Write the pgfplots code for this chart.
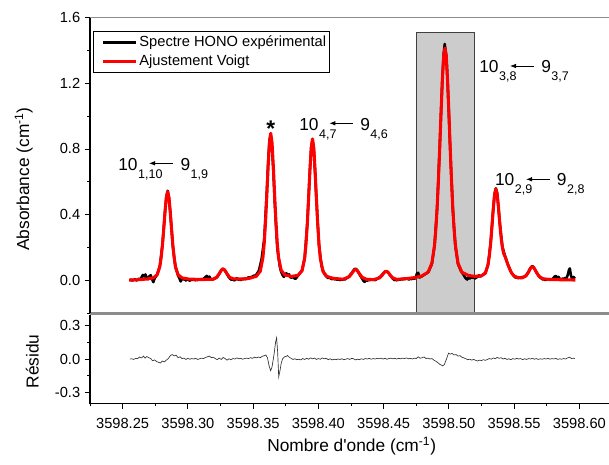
\documentclass[border=0pt]{standalone}
\usepackage{fontspec}
\setmainfont{Liberation Sans}
\usepackage{pgfplots}
\pgfplotsset{compat=1.18}
\usepackage{pgfplotstable}
\usetikzlibrary{arrows.meta}

% x values are offsets from 3598 cm^-1
\pgfplotstableread{
x y
0.2550 0.000
0.2620 0.003
0.2685 0.007
0.2735 0.014
0.2765 0.033
0.2785 0.083
0.2795 0.136
0.2805 0.213
0.2815 0.311
0.2825 0.418
0.2835 0.505
0.2845 0.540
0.2855 0.505
0.2865 0.418
0.2875 0.311
0.2885 0.213
0.2895 0.136
0.2905 0.083
0.2925 0.033
0.2955 0.014
0.3005 0.007
0.3100 0.004
0.3190 0.005
0.3220 0.017
0.3240 0.039
0.3250 0.053
0.3260 0.064
0.3270 0.068
0.3280 0.064
0.3290 0.053
0.3300 0.039
0.3320 0.017
0.3350 0.008
0.3420 0.007
0.3475 0.012
0.3525 0.024
0.3555 0.055
0.3575 0.138
0.3585 0.225
0.3595 0.353
0.3605 0.516
0.3615 0.692
0.3625 0.837
0.3635 0.895
0.3645 0.837
0.3655 0.692
0.3665 0.516
0.3675 0.353
0.3685 0.225
0.3695 0.138
0.3715 0.060
0.3745 0.031
0.3795 0.023
0.3845 0.030
0.3875 0.058
0.3895 0.134
0.3905 0.218
0.3915 0.340
0.3925 0.497
0.3935 0.666
0.3945 0.805
0.3955 0.861
0.3965 0.805
0.3975 0.666
0.3985 0.497
0.3995 0.339
0.4005 0.216
0.4015 0.132
0.4035 0.053
0.4065 0.023
0.4115 0.011
0.4190 0.006
0.4235 0.020
0.4255 0.040
0.4265 0.051
0.4275 0.061
0.4285 0.065
0.4295 0.061
0.4305 0.051
0.4315 0.039
0.4335 0.018
0.4365 0.006
0.4420 0.003
0.4470 0.014
0.4490 0.031
0.4500 0.042
0.4510 0.051
0.4520 0.054
0.4530 0.051
0.4540 0.042
0.4550 0.031
0.4570 0.014
0.4600 0.005
0.4680 0.010
0.4740 0.016
0.4790 0.025
0.4840 0.048
0.4870 0.104
0.4890 0.213
0.4900 0.309
0.4910 0.442
0.4920 0.611
0.4930 0.810
0.4940 1.022
0.4950 1.218
0.4960 1.362
0.4970 1.415
0.4980 1.362
0.4990 1.218
0.5000 1.022
0.5010 0.810
0.5020 0.611
0.5030 0.442
0.5040 0.309
0.5050 0.213
0.5070 0.104
0.5100 0.048
0.5150 0.029
0.5200 0.023
0.5250 0.027
0.5280 0.043
0.5300 0.094
0.5310 0.147
0.5320 0.224
0.5330 0.324
0.5340 0.431
0.5350 0.520
0.5360 0.557
0.5370 0.526
0.5380 0.444
0.5390 0.346
0.5400 0.261
0.5410 0.200
0.5420 0.162
0.5430 0.145
0.5440 0.123
0.5450 0.099
0.5460 0.080
0.5480 0.044
0.5500 0.025
0.5530 0.016
0.5560 0.014
0.5590 0.025
0.5610 0.049
0.5620 0.064
0.5630 0.077
0.5640 0.082
0.5650 0.077
0.5660 0.064
0.5670 0.049
0.5690 0.024
0.5720 0.009
0.5770 0.004
0.5970 0.001
}\fitdata

\pgfplotstableread{
x y
0.2555 0.000
0.2565 0.004
0.2575 -0.003
0.2585 0.002
0.2595 0.006
0.2605 -0.002
0.2615 0.003
0.2625 0.010
0.2635 0.004
0.2645 0.018
0.2655 0.032
0.2665 0.022
0.2675 0.035
0.2685 0.012
0.2695 0.006
0.2705 0.024
0.2715 0.030
0.2725 0.008
0.2735 -0.012
0.2745 0.010
0.2755 0.022
0.2765 0.036
0.2785 0.085
0.2805 0.215
0.2825 0.420
0.2835 0.508
0.2845 0.545
0.2855 0.500
0.2865 0.412
0.2885 0.205
0.2905 0.078
0.2925 0.028
0.2935 0.012
0.2945 -0.008
0.2955 0.010
0.2965 0.004
0.2975 0.008
0.2985 -0.002
0.2995 0.006
0.3005 0.002
0.3015 -0.004
0.3025 0.005
0.3035 0.001
0.3045 0.007
0.3055 -0.002
0.3065 0.004
0.3075 0.000
0.3085 0.006
0.3095 0.003
0.3105 0.008
0.3115 0.002
0.3125 0.012
0.3135 0.020
0.3145 0.026
0.3155 0.014
0.3165 0.022
0.3175 0.008
0.3185 0.003
0.3195 0.006
0.3205 0.010
0.3215 0.014
0.3225 0.020
0.3235 0.032
0.3245 0.045
0.3255 0.060
0.3265 0.070
0.3275 0.066
0.3285 0.056
0.3295 0.044
0.3305 0.030
0.3315 0.016
0.3325 0.008
0.3335 0.002
0.3345 0.006
0.3355 -0.002
0.3365 0.004
0.3375 0.012
0.3385 0.003
0.3395 0.006
0.3405 0.000
0.3415 0.008
0.3425 0.005
0.3435 0.010
0.3445 0.006
0.3455 0.012
0.3465 0.018
0.3475 0.014
0.3485 0.020
0.3495 0.022
0.3505 0.028
0.3515 0.026
0.3525 0.034
0.3545 0.060
0.3565 0.130
0.3585 0.250
0.3605 0.545
0.3615 0.715
0.3625 0.850
0.3632 0.885
0.3642 0.840
0.3655 0.665
0.3665 0.480
0.3685 0.195
0.3705 0.080
0.3715 0.050
0.3725 0.032
0.3735 0.020
0.3745 0.035
0.3755 0.042
0.3765 0.028
0.3775 0.036
0.3785 0.018
0.3795 0.015
0.3805 0.022
0.3815 0.012
0.3825 0.008
0.3835 0.018
0.3845 0.030
0.3875 0.060
0.3895 0.136
0.3915 0.345
0.3935 0.670
0.3945 0.808
0.3955 0.858
0.3965 0.800
0.3985 0.490
0.4005 0.210
0.4025 0.085
0.4045 0.040
0.4055 0.028
0.4065 0.020
0.4075 0.012
0.4085 0.018
0.4095 0.010
0.4105 0.006
0.4115 0.012
0.4125 0.004
0.4135 0.008
0.4145 0.002
0.4155 0.006
0.4165 0.000
0.4175 0.005
0.4185 0.002
0.4195 0.008
0.4205 0.004
0.4215 0.012
0.4225 0.018
0.4235 0.024
0.4245 0.034
0.4255 0.042
0.4265 0.055
0.4275 0.066
0.4285 0.070
0.4295 0.064
0.4305 0.050
0.4315 0.036
0.4325 0.022
0.4335 0.010
0.4345 -0.004
0.4355 -0.010
0.4365 0.002
0.4375 -0.004
0.4385 0.004
0.4395 0.000
0.4405 0.006
0.4415 0.002
0.4425 0.004
0.4435 0.000
0.4445 0.006
0.4455 0.010
0.4465 0.016
0.4475 0.022
0.4485 0.030
0.4495 0.040
0.4505 0.048
0.4515 0.054
0.4525 0.052
0.4535 0.046
0.4545 0.036
0.4555 0.026
0.4565 0.014
0.4575 0.006
0.4585 0.000
0.4595 0.004
0.4605 -0.002
0.4615 0.006
0.4625 0.002
0.4635 0.008
0.4645 0.004
0.4655 0.010
0.4665 0.006
0.4675 0.012
0.4685 0.008
0.4695 0.004
0.4705 0.010
0.4715 0.006
0.4725 0.012
0.4735 0.008
0.4745 0.014
0.4755 0.040
0.4765 0.045
0.4775 0.016
0.4785 0.020
0.4795 0.024
0.4805 0.030
0.4825 0.040
0.4845 0.052
0.4870 0.100
0.4890 0.210
0.4910 0.440
0.4930 0.815
0.4950 1.230
0.4960 1.380
0.4968 1.440
0.4980 1.370
0.4990 1.215
0.5010 0.800
0.5030 0.430
0.5050 0.205
0.5070 0.098
0.5090 0.060
0.5100 0.046
0.5110 0.036
0.5120 0.022
0.5130 0.010
0.5140 0.004
0.5150 0.016
0.5160 0.010
0.5170 0.022
0.5180 0.014
0.5190 0.018
0.5200 0.010
0.5210 0.016
0.5220 0.020
0.5230 0.030
0.5240 0.022
0.5250 0.026
0.5280 0.045
0.5300 0.095
0.5320 0.228
0.5340 0.438
0.5350 0.526
0.5360 0.560
0.5370 0.530
0.5390 0.350
0.5410 0.204
0.5430 0.148
0.5450 0.100
0.5470 0.060
0.5480 0.044
0.5490 0.036
0.5500 0.024
0.5510 0.016
0.5520 0.018
0.5530 0.012
0.5540 0.016
0.5550 0.014
0.5560 0.018
0.5580 0.022
0.5600 0.038
0.5610 0.052
0.5620 0.068
0.5630 0.080
0.5640 0.086
0.5650 0.078
0.5660 0.064
0.5670 0.050
0.5680 0.036
0.5690 0.026
0.5700 0.016
0.5710 0.010
0.5720 0.004
0.5730 0.008
0.5740 0.000
0.5750 0.006
0.5760 0.002
0.5770 0.008
0.5780 0.003
0.5790 0.006
0.5800 0.012
0.5810 0.022
0.5820 0.026
0.5830 0.012
0.5840 0.020
0.5850 0.008
0.5860 0.004
0.5870 0.010
0.5880 0.006
0.5890 0.014
0.5900 0.010
0.5910 0.030
0.5920 0.062
0.5927 0.072
0.5935 0.030
0.5945 0.004
0.5955 0.020
0.5965 0.010
}\expdata

\pgfplotstableread{
x y
0.2555 0.000
0.2570 0.002
0.2585 -0.004
0.2600 0.006
0.2615 0.004
0.2630 0.018
0.2645 0.010
0.2660 0.026
0.2672 0.008
0.2685 0.022
0.2700 0.012
0.2715 0.004
0.2730 -0.016
0.2745 -0.008
0.2760 -0.022
0.2775 -0.030
0.2790 -0.036
0.2805 -0.018
0.2820 -0.026
0.2835 -0.010
0.2850 0.004
0.2865 0.030
0.2880 0.040
0.2895 0.028
0.2910 0.034
0.2925 0.012
0.2940 0.020
0.2955 0.004
0.2970 0.008
0.2985 -0.004
0.3000 0.006
0.3015 -0.002
0.3030 0.004
0.3045 0.000
0.3060 0.006
0.3075 -0.004
0.3090 0.002
0.3105 0.008
0.3120 0.004
0.3135 0.014
0.3150 0.020
0.3165 0.026
0.3180 0.012
0.3195 0.016
0.3210 0.004
0.3225 -0.006
0.3240 0.008
0.3255 -0.004
0.3270 0.014
0.3285 0.004
0.3300 -0.010
0.3315 0.002
0.3330 -0.006
0.3345 0.004
0.3360 0.000
0.3375 0.010
0.3390 0.002
0.3405 0.006
0.3420 -0.002
0.3435 0.004
0.3450 0.008
0.3465 0.004
0.3480 0.012
0.3495 0.006
0.3510 0.016
0.3525 0.010
0.3540 0.018
0.3555 0.012
0.3570 0.024
0.3585 0.030
0.3598 0.036
0.3610 0.010
0.3622 -0.060
0.3634 -0.105
0.3645 -0.070
0.3660 0.040
0.3672 0.150
0.3680 0.190
0.3688 0.060
0.3696 -0.160
0.3705 -0.110
0.3715 -0.040
0.3725 0.000
0.3740 0.020
0.3755 0.024
0.3762 0.032
0.3775 0.018
0.3790 0.006
0.3805 -0.004
0.3820 0.002
0.3835 -0.006
0.3850 -0.002
0.3865 -0.008
0.3880 0.004
0.3895 -0.004
0.3910 0.006
0.3925 -0.002
0.3940 0.010
0.3955 0.002
0.3970 0.008
0.3985 -0.004
0.4000 0.004
0.4015 -0.002
0.4030 0.010
0.4045 0.002
0.4060 0.006
0.4075 -0.006
0.4090 0.002
0.4105 -0.008
0.4120 -0.002
0.4135 -0.006
0.4150 0.000
0.4165 -0.004
0.4180 0.002
0.4195 -0.006
0.4210 -0.002
0.4225 0.004
0.4240 -0.004
0.4255 0.006
0.4270 0.002
0.4285 -0.008
0.4300 -0.002
0.4315 -0.006
0.4330 0.002
0.4345 -0.004
0.4360 0.004
0.4375 0.000
0.4390 0.006
0.4405 -0.002
0.4420 0.004
0.4435 0.000
0.4450 0.006
0.4465 0.002
0.4480 0.008
0.4495 0.000
0.4510 0.006
0.4525 -0.002
0.4540 0.004
0.4555 0.008
0.4570 0.002
0.4585 0.006
0.4600 0.000
0.4615 0.006
0.4630 0.002
0.4645 0.008
0.4660 0.004
0.4675 0.010
0.4690 0.002
0.4705 0.006
0.4720 0.000
0.4735 0.008
0.4750 0.004
0.4765 0.020
0.4780 0.006
0.4795 0.012
0.4810 0.018
0.4825 0.004
0.4840 0.008
0.4855 0.000
0.4870 0.004
0.4885 -0.010
0.4900 -0.020
0.4915 -0.032
0.4930 -0.048
0.4945 -0.056
0.4952 -0.062
0.4965 -0.050
0.4975 -0.020
0.4985 0.010
0.4997 0.052
0.5010 0.044
0.5025 0.050
0.5040 0.036
0.5055 0.040
0.5070 0.026
0.5085 0.030
0.5100 0.016
0.5115 0.010
0.5130 0.002
0.5145 -0.006
0.5160 -0.002
0.5175 -0.010
0.5190 -0.004
0.5205 -0.012
0.5220 -0.018
0.5235 -0.010
0.5250 -0.014
0.5265 -0.006
0.5280 -0.012
0.5295 -0.004
0.5310 0.004
0.5325 -0.002
0.5340 0.010
0.5355 0.002
0.5370 0.014
0.5385 0.006
0.5400 0.012
0.5415 0.000
0.5430 0.006
0.5445 -0.004
0.5460 0.002
0.5475 -0.006
0.5490 0.004
0.5505 -0.002
0.5520 0.006
0.5535 0.000
0.5550 0.004
0.5565 -0.006
0.5580 0.002
0.5595 -0.004
0.5610 0.004
0.5625 0.000
0.5640 0.006
0.5655 -0.002
0.5670 0.004
0.5685 -0.004
0.5700 0.002
0.5715 -0.002
0.5730 0.004
0.5745 0.000
0.5760 0.006
0.5775 -0.002
0.5790 0.004
0.5805 0.000
0.5820 0.006
0.5835 -0.004
0.5850 0.002
0.5865 -0.002
0.5880 0.004
0.5895 0.000
0.5910 0.010
0.5925 0.016
0.5940 0.004
0.5955 0.008
0.5965 0.004
}\resdata

\newcommand{\lvl}[2]{#1\kern0.4pt\raisebox{-6.2pt}{\fontsize{9.4}{10}\selectfont #2}}

\pgfplotsset{
  common/.style={
    scale only axis,
    width=391.5pt,
    xmin=0.225, xmax=0.625,
    axis line style={draw=none},
    tick align=outside,
    major tick length=3.8pt,
    minor tick length=2.2pt,
    every tick/.style={black, line width=0.6pt},
    /pgf/number format/assume math mode=true,
    tick label style={font=\fontsize{11}{13}\selectfont},
    yticklabel style={/pgf/number format/.cd, fixed, fixed zerofill, precision=1},
    ytick pos=left,
    clip=false,
  }
}

\begin{document}
\begin{tikzpicture}

% ---------- top panel ----------
\begin{axis}[common,
  at={(67.5pt,113.25pt)}, anchor=south west,
  height=221.5pt,
  ymin=-0.2, ymax=1.6,
  xtick=\empty,
  ytick={0,0.4,0.8,1.2,1.6},
  minor ytick={-0.2,0.2,0.6,1.0,1.4},
  legend style={at={(0.005,0.955)}, anchor=north west, draw=black,
    line width=0.6pt, inner xsep=1pt, inner ysep=1.5pt,
    font=\fontsize{11}{12}\selectfont, row sep=1pt,
    nodes={inner sep=1.5pt, text height=8pt, text depth=2.4pt}},
  legend cell align=left,
  legend image code/.code={\path (0pt,0pt); \draw[#1] (5.5pt,0pt) -- (30pt,0pt);},
]
\fill[black!20] (axis cs:0.475,-0.2) rectangle (axis cs:0.5195,1.51);
\draw[black!75, line width=0.6pt] (axis cs:0.475,-0.2) -- (axis cs:0.475,1.51) -- (axis cs:0.5195,1.51) -- (axis cs:0.5195,-0.2);
\addplot[black, line width=1.9pt, line join=round] table[x=x,y=y]{\expdata};
\addplot[red, line width=2.3pt, line join=round] table[x=x,y=y]{\fitdata};
\legend{Spectre HONO expérimental, Ajustement Voigt}
\draw[black!45, line width=0.8pt] (rel axis cs:0,1) -- (rel axis cs:1,1);
\draw[black!45, line width=0.8pt] (rel axis cs:0,0) -- (rel axis cs:1,0);
\draw[black, line width=0.9pt] (rel axis cs:0,0) -- (rel axis cs:0,1);
\end{axis}

% ---------- residual panel ----------
\begin{axis}[common,
  at={(67.5pt,45.375pt)}, anchor=south west,
  height=66.75pt,
  ymin=-0.4, ymax=0.4,
  ytick={-0.3,0,0.3},
  minor ytick={-0.15,0.15},
  xtick={0.25,0.30,0.35,0.40,0.45,0.50,0.55,0.60},
  xticklabels={3598.25,3598.30,3598.35,3598.40,3598.45,3598.50,3598.55,3598.60},
  minor xtick={0.225,0.275,0.325,0.375,0.425,0.475,0.525,0.575,0.625},
  xtick pos=bottom,
  xticklabel style={yshift=-4pt},
]
\addplot[black!80, line width=0.5pt] table[x=x,y=y]{\resdata};
\draw[black!45, line width=0.8pt] (rel axis cs:0,1) -- (rel axis cs:1,1);
\draw[black, line width=0.9pt] (rel axis cs:0,0) -- (rel axis cs:1,0);
\draw[black, line width=0.9pt] (rel axis cs:0,0) -- (rel axis cs:0,1);
\end{axis}

\begin{scope}[x=0.75pt,y=0.75pt]
% ---------- axis titles ----------
\node[rotate=90, anchor=base, inner sep=0, font=\fontsize{13}{13}\selectfont] at (29,285) {Absorbance (cm\textsuperscript{-1})};
\node[rotate=90, anchor=base, inner sep=0, font=\fontsize{13}{13}\selectfont] at (38.5,102.5) {Résidu};
\node[anchor=base, inner sep=0, font=\fontsize{13}{13}\selectfont] at (351.7,12.5) {Nombre d\textquotesingle onde (cm\textsuperscript{-1})};

% ---------- annotations ----------
\begin{scope}[every node/.style={anchor=base west, inner sep=0, font=\fontsize{13}{13}\selectfont}]
\node at (118,293.3) {\lvl{10}{1,10}};
\draw[line width=0.6pt, -{Latex[length=4.5pt,width=3.4pt]}] (172.7,300.7) -- (149,300.7);
\node at (180.3,293.3) {\lvl{9}{1,9}};

\node at (299,333.3) {\lvl{10}{4,7}};
\draw[line width=0.6pt, -{Latex[length=4.5pt,width=3.4pt]}] (352.7,340.7) -- (329.3,340.7);
\node at (360,333.3) {\lvl{9}{4,6}};

\node at (479,391.7) {\lvl{10}{3,8}};
\draw[line width=0.6pt, -{Latex[length=4.5pt,width=3.4pt]}] (534.3,398) -- (510,398);
\node at (541,391.7) {\lvl{9}{3,7}};

\node at (494.8,278.3) {\lvl{10}{2,9}};
\draw[line width=0.6pt, -{Latex[length=4.5pt,width=3.4pt]}] (550,284.7) -- (526,284.7);
\node at (556.6,278.3) {\lvl{9}{2,8}};
\end{scope}
\node[anchor=base, inner sep=0, font=\fontsize{17}{17}\selectfont\bfseries] at (270.7,327.7) {*};

\pgfresetboundingbox
\path[use as bounding box] (0,0) rectangle (609,464);
\end{scope}
\end{tikzpicture}
\end{document}
